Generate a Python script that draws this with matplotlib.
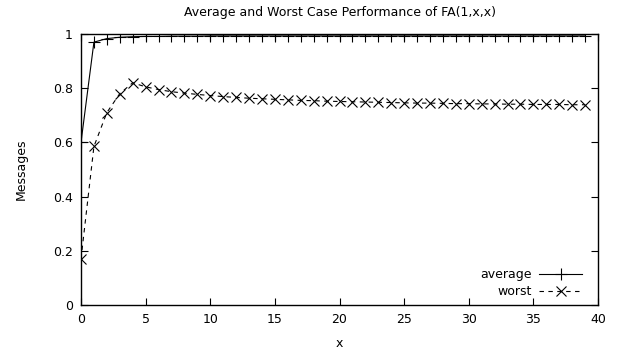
import matplotlib
matplotlib.use("Agg")
import matplotlib.pyplot as plt
from matplotlib.lines import Line2D

x = list(range(40))
average = [0.60, 0.970, 0.983, 0.988, 0.990, 0.991, 0.991, 0.992, 0.992, 0.992,
           0.993, 0.993, 0.993, 0.993, 0.993, 0.993, 0.993, 0.993, 0.993, 0.993,
           0.993, 0.993, 0.993, 0.993, 0.993, 0.993, 0.993, 0.993, 0.993, 0.993,
           0.993, 0.993, 0.993, 0.993, 0.993, 0.993, 0.993, 0.993, 0.993, 0.993]
worst = [0.17, 0.585, 0.71, 0.78, 0.82, 0.805, 0.795, 0.787, 0.782, 0.777,
         0.773, 0.769, 0.766, 0.763, 0.761, 0.759, 0.757, 0.755, 0.754, 0.752,
         0.751, 0.750, 0.749, 0.748, 0.747, 0.746, 0.745, 0.745, 0.744, 0.743,
         0.743, 0.742, 0.742, 0.741, 0.741, 0.740, 0.740, 0.740, 0.739, 0.739]

plt.rcParams['font.family'] = ['DejaVu Sans']
fig = plt.figure(figsize=(6.24, 3.58), dpi=100)
ax = fig.add_axes([81/624, 1-305/358, (598-81)/624, (305-34)/358])

l1, = ax.plot(x, average, color='black', lw=0.8, marker='+', ms=8, mew=0.8, label='average')
l2, = ax.plot(x, worst, color='black', lw=0.8, ls=(0, (4, 4)), marker='x', ms=7, mew=0.8, label='worst')

ax.set_xlim(0, 40)
ax.set_ylim(0, 1)
ax.set_xticks(range(0, 41, 5))
ax.set_yticks([0, 0.2, 0.4, 0.6, 0.8, 1])
ax.set_yticklabels(['0', '0.2', '0.4', '0.6', '0.8', '1'])
ax.tick_params(direction='in', top=True, right=True, length=5, labelsize=9, width=0.8, pad=6)
for s in ax.spines.values():
    s.set_linewidth(1.0)
ax.set_xlabel('x', fontsize=9, labelpad=8)
ax.set_ylabel('Messages', fontsize=9, labelpad=18)
ax.set_title('Average and Worst Case Performance of FA(1,x,x)', fontsize=9, pad=13)

kw = dict(loc='center right', frameon=False, markerfirst=False, fontsize=9,
          handlelength=3.4, handletextpad=0.6, borderaxespad=0, borderpad=0)
leg1 = ax.legend(handles=[l1], bbox_to_anchor=(0.969, 0.111), **kw)
ax.add_artist(leg1)
ax.legend(handles=[l2], bbox_to_anchor=(0.969, 0.048), **kw)
fig.savefig('out.png', dpi=100)
